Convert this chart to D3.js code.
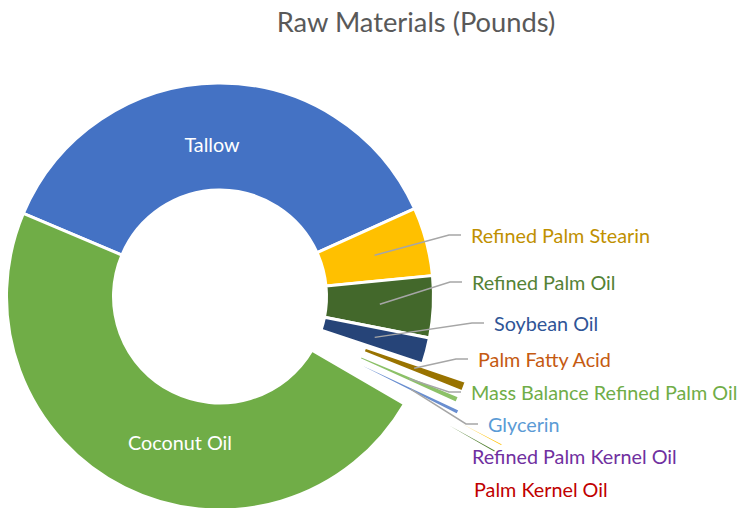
<!DOCTYPE html>
<html><head><meta charset="utf-8">
<script src="https://cdn.jsdelivr.net/npm/d3@7"></script>
<style>body{margin:0;background:#fff} svg{display:block}</style>
</head><body>
<svg id="chart" width="739" height="508"></svg>
<script>
// ---- data ----
const title = "Raw Materials (Pounds)";
const categories = ["Tallow","Refined Palm Stearin","Refined Palm Oil","Soybean Oil","Palm Fatty Acid","Mass Balance Refined Palm Oil","Glycerin","Refined Palm Kernel Oil","Palm Kernel Oil","Coconut Oil"];
const shares = [36.89, 5.19, 4.67, 2.00, 1.04, 0.75, 0.60, 0.43, 0.46, 47.97];

// ---- styles / layout ----
const sliceColors = ["#4472C4","#FFC000","#43682B","#264478","#997300","#8CC168","#698ED0","#FFC000","#548235","#70AD47"];
const labelColors = ["#FFFFFF","#BF9000","#548235","#2F5597","#C55A11","#70AD47","#5B9BD5","#7030A0","#C00000","#FFFFFF"];
const explode = [0,0,0,0,47,46,52,106,103,0];
const shrink  = [1,1,1,1,0.78,0.76,0.78,0.65,0.65,1];
const labelLayout = [
  {inside:true, dx:-6, dy:7.5},
  {x:471, y:235, leader:true},
  {x:472, y:282, leader:true},
  {x:494, y:323, leader:true},
  {x:478, y:359, leader:true},
  {x:471, y:392, leader:true},
  {x:488, y:424, leader:true},
  {x:472, y:456, leader:false},
  {x:474, y:489, leader:false},
  {inside:true, dx:31.5, dy:2.4}
];
const cx = 220, cy = 296.5, R = 213.5, r0 = 106.5;
const FONT = "Lato, 'Open Sans', sans-serif";

const svg = d3.select("#chart");

svg.append("text")
  .attr("x", 416).attr("y", 21)
  .attr("text-anchor","middle").attr("dominant-baseline","central")
  .attr("font-family", FONT).attr("font-size", 27.3).attr("fill","#595959")
  .text(title);

const start = -67.1 * Math.PI / 180;
const pie = d3.pie().sort(null).value(d => d).startAngle(start).endAngle(start + 2*Math.PI);
const arcs = pie(shares).map((d, i) => {
  const mid = (d.startAngle + d.endAngle) / 2;
  const half = (d.endAngle - d.startAngle) / 2 * shrink[i];
  return {i, startAngle: mid - half, endAngle: mid + half, mid,
          tx: explode[i] * Math.sin(mid), ty: -explode[i] * Math.cos(mid)};
});
const arc = d3.arc().innerRadius(r0).outerRadius(R);

const g = svg.append("g").attr("transform", `translate(${cx},${cy})`);
g.selectAll("path.slice").data(arcs).join("path")
  .attr("class","slice")
  .attr("d", arc)
  .attr("transform", d => `translate(${d.tx},${d.ty})`)
  .attr("fill", d => sliceColors[d.i])
  .attr("stroke", "#fff").attr("stroke-width", 3).attr("stroke-linejoin","miter");

// leaders
arcs.forEach(d => {
  const L = labelLayout[d.i];
  if (!L.leader) return;
  const c = arc.centroid(d);
  const sx = cx + c[0] + d.tx, sy = cy + c[1] + d.ty;
  svg.append("polyline")
    .attr("points", `${sx},${sy} ${L.x-22},${L.y} ${L.x-10},${L.y}`)
    .attr("fill","none").attr("stroke","#A6A6A6").attr("stroke-width",1.5);
});

// labels
arcs.forEach(d => {
  const L = labelLayout[d.i];
  const t = svg.append("text")
    .attr("font-family", FONT).attr("font-size", 19.8)
    .attr("fill", labelColors[d.i]).attr("dominant-baseline","central")
    .text(categories[d.i]);
  if (L.inside) {
    const c = arc.centroid(d);
    t.attr("x", cx + c[0] + L.dx).attr("y", cy + c[1] + L.dy).attr("text-anchor","middle");
  } else {
    t.attr("x", L.x).attr("y", L.y).attr("text-anchor","start");
  }
});
</script>
</body></html>
